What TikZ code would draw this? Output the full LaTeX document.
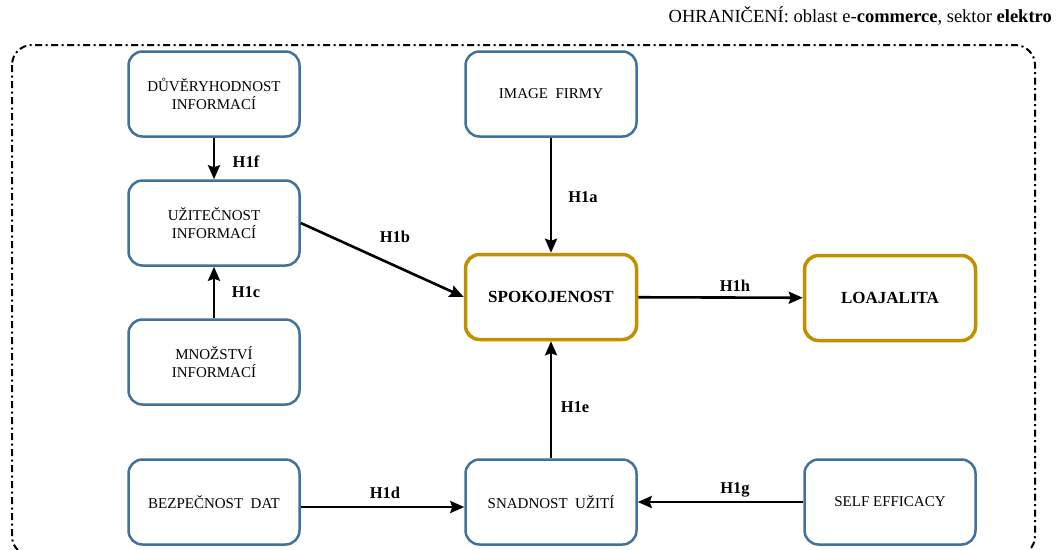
\documentclass[tikz,border=0pt]{standalone}
\usepackage{fontspec}
\setmainfont{Liberation Serif}
\usepackage{tikz}
\usetikzlibrary{arrows.meta,positioning}
\definecolor{boxblue}{RGB}{65,113,156}
\definecolor{boxgold}{RGB}{191,144,0}
\tikzstyle{konstrukt} = [rectangle, rounded corners=14pt, draw=boxblue, line width=2.5pt,
                    minimum width=171pt, minimum height=85pt, align=center,
                    font=\fontsize{15}{18}\selectfont, fill=white]
\tikzstyle{hlavni}    = [konstrukt, draw=boxgold, line width=3.5pt,
                    font=\fontsize{17}{20}\selectfont\bfseries]
\tikzstyle{hyparrow}  = [line width=2.6pt,-{Stealth[length=14pt,width=12pt,inset=2pt]}]

\begin{document}
\begin{tikzpicture}[
			x=1pt,y=-1pt,
			hlabel/.style={font=\fontsize{16.5}{18}\selectfont\bfseries,inner sep=1pt},
			ramec/.style={line width=2pt,rounded corners=20pt,
					dash pattern=on 7pt off 3.5pt on 2pt off 3.5pt}
		]
		\useasboundingbox (0,0) rectangle (1056,549);
		\draw[ramec] (12,45) rectangle (1035,556);
		\node[anchor=base east,font=\fontsize{18.5}{20}\selectfont,inner sep=0pt] (omez) at (1052,22)
			{OHRANIČENÍ: oblast e-\textbf{commerce}, sektor \textbf{elektro}};

		\node[konstrukt] (duv) at (214,94) {DŮVĚRYHODNOST\\INFORMACÍ};
		\node[konstrukt] (uzit) at (214,223) {UŽITEČNOST\\INFORMACÍ};
		\node[konstrukt] (mnoz) at (214,362) {MNOŽSTVÍ\\INFORMACÍ};
		\node[konstrukt] (bezp) at (214,502) {BEZPEČNOST\ \ DAT};
		\node[konstrukt] (image) at (551,94) {IMAGE\ \ FIRMY};
		\node[hlavni] (spok) at (551,297) {SPOKOJENOST};
		\node[konstrukt] (snad) at (551,502) {SNADNOST\ \ UŽITÍ};
		\node[hlavni] (loaj) at (890,298) {LOAJALITA};
		\node[konstrukt] (self) at (890,502) {SELF\ EFFICACY};

		\draw[hyparrow] (duv) -- (uzit);
		\draw[hyparrow] (mnoz) -- (uzit);
		\draw[hyparrow] (uzit.east) -- (spok.west);
		\draw[hyparrow] (image) -- (spok);
		\draw[hyparrow] (snad) -- (spok);
		\draw[hyparrow] (spok) -- (loaj);
		\draw[hyparrow] (bezp.east) ++(0,5) -- (snad.west |- 0,507);
		\draw[hyparrow] (self) -- (snad);

		\node[hlabel] (h1f) at (246,162) {H1f};
		\node[hlabel] (h1c) at (246,292) {H1c};
		\node[hlabel] (h1b) at (395,237) {H1b};
		\node[hlabel] (h1a) at (583,197) {H1a};
		\node[hlabel] (h1e) at (575,407) {H1e};
		\node[hlabel] (h1h) at (735,286) {H1h};
		\node[hlabel] (h1d) at (385,493) {H1d};
		\node[hlabel] (h1g) at (735,490) {H1g};
	\end{tikzpicture}
\end{document}
